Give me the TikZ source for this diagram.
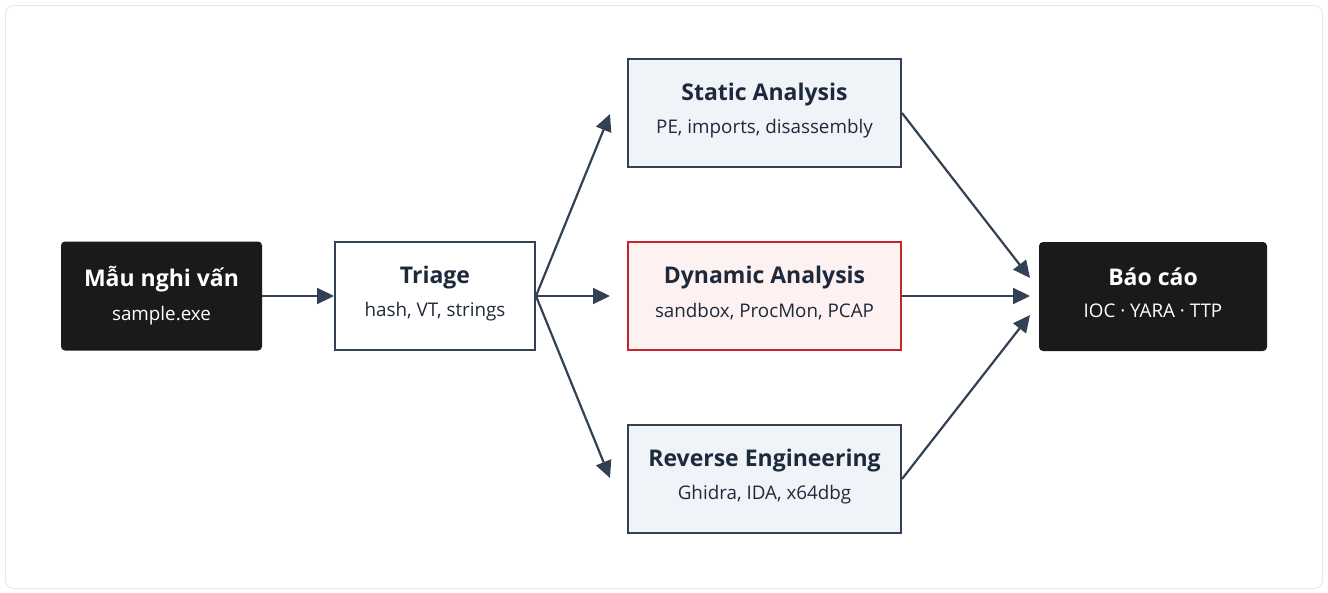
\documentclass[tikz,border=0pt]{standalone}
\usepackage{fontspec}
\setmainfont{Open Sans}
\usetikzlibrary{arrows.meta}
\definecolor{slate}{HTML}{334155}
\definecolor{ink}{HTML}{1E293B}
\definecolor{blackbox}{HTML}{1A1A1A}
\definecolor{lightfill}{HTML}{F0F4F9}
\definecolor{redline}{HTML}{C0262B}
\definecolor{redfill}{HTML}{FDF1F1}
\definecolor{frame}{HTML}{E2E8F0}
\tikzset{
  darkbox/.style={draw=none, fill=blackbox, rounded corners=4pt, minimum width=201pt, minimum height=109pt, inner sep=0pt},
  plainbox/.style={draw=slate, line width=2pt, fill=white, minimum width=200pt, minimum height=108pt, inner sep=0pt},
  stagebox/.style={draw=slate, line width=2pt, fill=lightfill, minimum width=273pt, minimum height=108pt, inner sep=0pt},
  hotbox/.style={draw=redline, line width=2pt, fill=redfill, minimum width=273pt, minimum height=108pt, inner sep=0pt},
  titletext/.style={font=\fontsize{23pt}{27pt}\selectfont\bfseries, text=ink, inner sep=0pt},
  subtext/.style={font=\fontsize{18.8pt}{22pt}\selectfont, text=ink, inner sep=0pt},
  whitetitle/.style={titletext, text=white},
  whitesub/.style={subtext, text=white},
  flow/.style={draw=slate, line width=2.2pt, -{Triangle[length=17pt,width=16pt]}},
}
\begin{document}
\begin{tikzpicture}[x=1pt,y=-1pt]
\useasboundingbox (0,0) rectangle (1328,592);
\draw[frame, line width=1pt, rounded corners=8pt] (5.5,5.5) rectangle (1322.5,588.5);

\node[darkbox] (sample) at (161.5,296) {};
\node[plainbox] (triage) at (435,296) {};
\node[stagebox] (static) at (764.5,113) {};
\node[hotbox] (dynamic) at (764.5,296) {};
\node[stagebox] (reverse) at (764.5,479) {};
\node[darkbox, minimum width=228pt] (report) at (1153,296.5) {};

\node[whitetitle] (sampleT) at ([yshift=17pt]sample.center) {Mẫu nghi vấn};
\node[whitesub] (sampleS) at ([yshift=-20pt]sample.center) {sample.exe};
\node[titletext] (triageT) at ([yshift=18pt]triage.center) {Triage};
\node[subtext] (triageS) at ([yshift=-16pt]triage.center) {hash, VT, strings};
\node[titletext] (staticT) at ([yshift=18pt]static.center) {Static Analysis};
\node[subtext] (staticS) at ([yshift=-16pt]static.center) {PE, imports, disassembly};
\node[titletext] (dynamicT) at ([yshift=18pt]dynamic.center) {Dynamic Analysis};
\node[subtext] (dynamicS) at ([yshift=-16pt]dynamic.center) {sandbox, ProcMon, PCAP};
\node[titletext] (reverseT) at ([yshift=18pt]reverse.center) {Reverse Engineering};
\node[subtext] (reverseS) at ([yshift=-16pt]reverse.center) {Ghidra, IDA, x64dbg};
\node[whitetitle] (reportT) at ([yshift=20pt]report.center) {Báo cáo};
\node[whitesub] (reportS) at ([yshift=-14pt]report.center) {IOC · YARA · TTP};

\coordinate (t1) at (610,114);
\coordinate (t2) at (610,296);
\coordinate (t3) at (610,478);
\coordinate (r1) at (1030,278);
\coordinate (r2) at (1030,296);
\coordinate (r3) at (1030,315);

\draw[flow] (sample.east) -- (triage.west);
\draw[flow] (triage.east) -- (t1);
\draw[flow] (triage.east) -- (t2);
\draw[flow] (triage.east) -- (t3);
\draw[flow] (static.east) -- (r1);
\draw[flow] (dynamic.east) -- (r2);
\draw[flow] (reverse.east) -- (r3);
\end{tikzpicture}
\end{document}
